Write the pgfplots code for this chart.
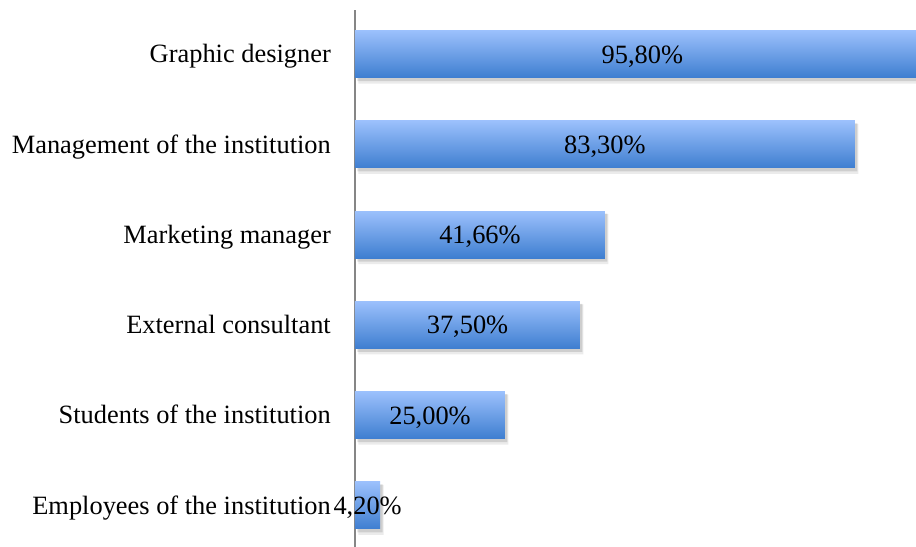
\documentclass[border=0pt]{standalone}
\usepackage{fontspec}
\setmainfont{Liberation Serif}
\usepackage{pgfplots}
\pgfplotsset{compat=1.18}
\usepackage{pgfplotstable}
\definecolor{bartop}{HTML}{9BC0FC}
\definecolor{barbot}{HTML}{3E7ED0}
\definecolor{axisgray}{HTML}{868686}
\pgfplotstableread{
y value
0 4.20
1 25.00
2 37.50
3 41.66
4 83.30
5 95.80
}\datatable
\pgfplotsset{
  mybar/.style={xbar, bar width=47bp, draw=none, top color=bartop, bottom color=barbot},
  myshadow/.style={xbar, bar width=#1, draw=none, fill=black, forget plot},
}
\begin{document}
\begin{tikzpicture}
\begin{axis}[
  name=a,
  scale only axis,
  width=561bp, height=537bp,
  xmin=0, xmax=93.5,
  ymin=-0.46, ymax=5.49,
  axis x line=none,
  axis y line=left,
  axis line style={-, axisgray, line width=1.5bp},
  ytick={0,1,2,3,4,5},
  yticklabels={Employees of the institution, Students of the institution, External consultant, Marketing manager, Management of the institution, Graphic designer},
  major tick length=0pt,
  yticklabel style={font=\fontsize{26.4bp}{30bp}\selectfont, inner sep=0pt, anchor=base east, xshift=-24bp, yshift=-8.7bp},
]
% soft shadows
\addplot[myshadow=50bp, opacity=0.08, xshift=3.5bp, yshift=-4.5bp] table[x=value, y=y] {\datatable};
\addplot[myshadow=48bp, opacity=0.12, xshift=2.5bp, yshift=-3bp] table[x=value, y=y] {\datatable};
% bars, each shaded on its own
\addplot[mybar] coordinates {(4.20,0)};
\addplot[mybar] coordinates {(25.00,1)};
\addplot[mybar] coordinates {(37.50,2)};
\addplot[mybar] coordinates {(41.66,3)};
\addplot[mybar] coordinates {(83.30,4)};
\addplot[mybar] coordinates {(95.80,5)};
% value labels at the middle of each bar
\addplot[draw=none, mark=none,
  nodes near coords={\pgfmathprintnumber[fixed,fixed zerofill,precision=2,use comma,assume math mode=true]{\pgfplotspointmeta}\%},
  point meta=\thisrow{value},
  every node near coord/.append style={anchor=base, yshift=-8.9bp, text=black, inner sep=0pt, font=\fontsize{26.4bp}{30bp}\selectfont}]
  table[x expr=\thisrow{value}/2, y=y] {\datatable};
\end{axis}
\pgfresetboundingbox
\path (a.south west) ++(-355bp,0) coordinate (bl);
\path (a.north east) ++(0,10bp) coordinate (tr);
\useasboundingbox (bl) rectangle (tr);
\end{tikzpicture}
\end{document}
